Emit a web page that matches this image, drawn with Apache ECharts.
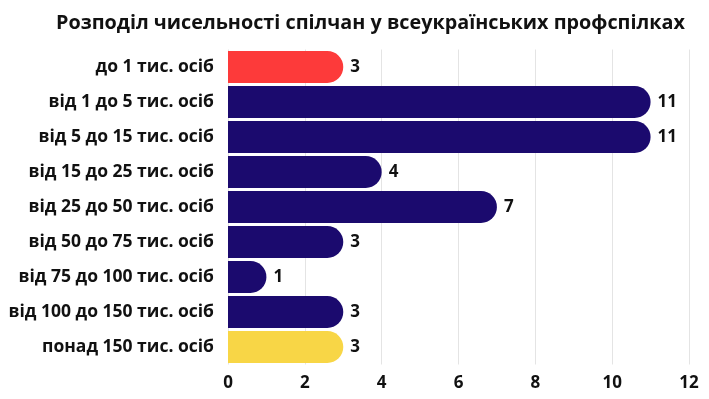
<!DOCTYPE html>
<html>
<head>
<meta charset="utf-8">
<script src="https://cdn.jsdelivr.net/npm/echarts@6/dist/echarts.min.js"></script>
<style>
  html, body { margin: 0; padding: 0; background: #fff; }
  #chart { width: 709px; height: 399px; }
</style>
</head>
<body>
<div id="chart"></div>
<script>
var titleText = "Розподіл чисельності спілчан у всеукраїнських профспілках";
var categories = [
    "до 1 тис. осіб",
    "від 1 до 5 тис. осіб",
    "від 5 до 15 тис. осіб",
    "від 15 до 25 тис. осіб",
    "від 25 до 50 тис. осіб",
    "від 50 до 75 тис. осіб",
    "від 75 до 100 тис. осіб",
    "від 100 до 150 тис. осіб",
    "понад 150 тис. осіб"
];
var values = [3, 11, 11, 4, 7, 3, 1, 3, 3];
var barColors = ["#fd3a3a", "#1b0a6e", "#1b0a6e", "#1b0a6e", "#1b0a6e", "#1b0a6e", "#1b0a6e", "#1b0a6e", "#f8d646"];

var font = "'Open Sans', sans-serif";

var chart = echarts.init(document.getElementById("chart"));

// categories go top-down, so the axis is inversed
var option = {
    animation: false,
    title: {
        text: titleText,
        left: 51,
        top: 8,
        textStyle: { fontFamily: font, fontSize: 19.8, fontWeight: "bold", color: "#111" }
    },
    grid: { left: 228, right: 20, top: 49.5, bottom: 34.5, containLabel: false },
    xAxis: {
        type: "value",
        min: 0,
        max: 12,
        interval: 2,
        axisLine: { show: false },
        axisTick: { show: false },
        splitLine: { lineStyle: { color: "#e4e4e4", width: 1 } },
        axisLabel: { fontFamily: font, fontSize: 17, fontWeight: "bold", color: "#111", margin: 10 }
    },
    yAxis: {
        type: "category",
        inverse: true,
        data: categories,
        axisLine: { show: false },
        axisTick: { show: false },
        axisLabel: { fontFamily: font, fontSize: 17.5, fontWeight: "bold", color: "#111", margin: 14 }
    },
    series: [{
        type: "bar",
        data: values.map(function (v, i) {
            return { value: v, itemStyle: { color: barColors[i] } };
        }),
        barCategoryGap: "9%",
        itemStyle: { borderRadius: [0, 16, 16, 0] },
        label: {
            show: true,
            position: "right",
            distance: 7,
            fontFamily: font,
            fontSize: 17,
            fontWeight: "bold",
            color: "#111"
        }
    }]
};
chart.setOption(option);
</script>
</body>
</html>
